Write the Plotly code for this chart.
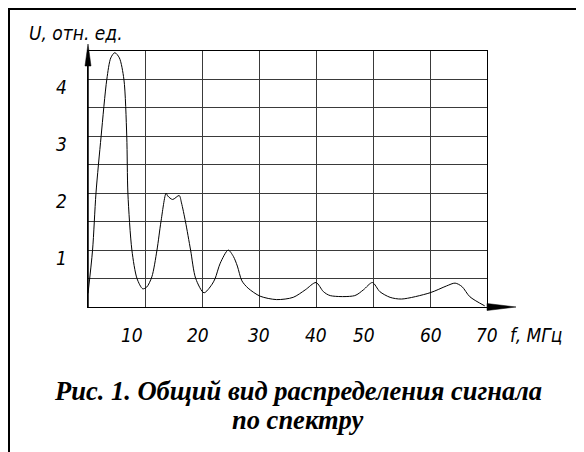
import plotly.graph_objects as go

# ---- data ----
freq_mhz = [0, 0.8, 1.4, 2.3, 3.3, 4.0, 4.7, 5.5, 6.3, 6.8, 7.0, 7.7, 8.6, 9.6,
            10.3, 11.2, 12.1, 12.8, 13.7, 14.0, 14.85, 16.0, 16.4, 17.1, 18.0, 18.9, 20.35,
            21.7, 22.3, 23.2, 24.6, 25.5, 26.2, 27.0, 28.1, 30.2, 33.1, 36.0,
            38.1, 40.0, 41.3, 42.5, 46.8, 48.3, 49.9, 51.2, 53.0, 55.0, 60.0,
            62.9, 64.4, 65.6, 67.0, 69.6]
u_rel = [0.24, 1.0, 2.0, 3.0, 4.0, 4.38, 4.47, 4.38, 4.0, 3.0, 2.0, 1.0, 0.5, 0.32,
         0.35, 0.53, 1.0, 1.5, 2.0, 1.95, 1.89, 1.96, 1.83, 1.5, 1.0, 0.5, 0.25,
         0.39, 0.5, 0.77, 1.0, 0.89, 0.72, 0.46, 0.33, 0.19, 0.13, 0.17,
         0.30, 0.43, 0.27, 0.2, 0.2, 0.30, 0.43, 0.27, 0.17, 0.14, 0.25,
         0.37, 0.42, 0.36, 0.18, 0.02]

x_ticks = [10, 20, 30, 40, 50, 60, 70]
x_tick_labels = ["10", "20", "30", "40", "50", "60", "70"]
y_ticks = [1, 2, 3, 4]
y_tick_labels = ["1", "2", "3", "4"]

y_title = "U, отн. ед."
x_title = "f, МГц"
caption_1 = "Рис. 1. Общий вид распределения сигнала"
caption_2 = "по спектру"

# ---- layout geometry (screen pixels; page body adds an 8 px offset) ----
OFF = 8
W, H = 584, 452
L, T = 88 - OFF, 51 - OFF
PW, PH = 399, 256
R, B = W - L - PW, H - T - PH


def px(xs):
    return (xs - OFF - L) / PW


def py(ys):
    return (T + PH - (ys - OFF)) / PH


gost = "Liberation Sans Narrow, DejaVu Sans Condensed, Arial Narrow, sans-serif"
serif = "Liberation Serif, Times New Roman, serif"
gfont = dict(family=gost, size=19, color="black", style="italic")
cfont = dict(family=serif, size=26.5, color="black", style="italic", weight="bold")

fig = go.Figure()
fig.add_trace(go.Scatter(
    x=freq_mhz, y=u_rel, mode="lines",
    line=dict(color="black", width=1, shape="spline", smoothing=0.8),
    hoverinfo="skip", showlegend=False,
))

axis_common = dict(showticklabels=False, ticks="", zeroline=False,
                   showgrid=True, gridcolor="#3a3a3a", gridwidth=1,
                   showline=True, linecolor="black", linewidth=1, mirror=True)
fig.update_xaxes(range=[0, 70], dtick=10, tick0=0, **axis_common)
fig.update_yaxes(range=[0, 4.5], dtick=0.5, tick0=0, **axis_common)

ann = []
x_shift = [-13, -4, 0, 0, -9, 1, 0]
for v, t, s in zip(x_ticks, x_tick_labels, x_shift):
    ann.append(dict(x=v, y=py(335), xref="x", yref="paper", text=t, showarrow=False,
                    xanchor="center", yanchor="middle", xshift=s, font=gfont))
for v, t in zip(y_ticks, y_tick_labels):
    ann.append(dict(x=px(61), y=v, xref="paper", yref="y", text=t, showarrow=False,
                    xanchor="center", yanchor="middle", yshift=-8, font=gfont))
ann.append(dict(x=px(27), y=py(33), xref="paper", yref="paper", text=y_title,
                showarrow=False, xanchor="left", yanchor="middle", font=gfont))
ann.append(dict(x=px(508), y=py(335), xref="paper", yref="paper", text=x_title,
                showarrow=False, xanchor="left", yanchor="middle", font=gfont))
ann.append(dict(x=px(298), y=py(391), xref="paper", yref="paper", text=caption_1,
                showarrow=False, xanchor="center", yanchor="middle", font=cfont))
ann.append(dict(x=px(297), y=py(420), xref="paper", yref="paper", text=caption_2,
                showarrow=False, xanchor="center", yanchor="middle", font=cfont))

shapes = [
    # outer frame (left and top)
    dict(type="line", xref="paper", yref="paper", x0=px(9), x1=px(9), y0=py(9), y1=py(480),
         line=dict(color="black", width=2)),
    dict(type="line", xref="paper", yref="paper", x0=px(8), x1=px(620), y0=py(9), y1=py(9),
         line=dict(color="black", width=2)),
    # axis extensions
    dict(type="line", xref="paper", yref="paper", x0=px(88), x1=px(88), y0=py(307), y1=py(50),
         line=dict(color="black", width=1.5)),
    dict(type="line", xref="paper", yref="paper", x0=px(487), x1=px(505), y0=py(307), y1=py(307),
         line=dict(color="black", width=1.5)),
    # arrow heads
    dict(type="path", xref="paper", yref="paper",
         path=f"M {px(88)},{py(44)} L {px(85)},{py(66)} L {px(91)},{py(66)} Z",
         fillcolor="black", line=dict(color="black", width=0.5)),
    dict(type="path", xref="paper", yref="paper",
         path=f"M {px(516)},{py(307)} L {px(487)},{py(303.5)} L {px(487)},{py(310.5)} Z",
         fillcolor="black", line=dict(color="black", width=0.5)),
]

fig.update_layout(
    width=W, height=H, autosize=False,
    margin=dict(l=L, r=R, t=T, b=B, pad=0),
    paper_bgcolor="white", plot_bgcolor="white",
    annotations=ann, shapes=shapes, showlegend=False,
)

fig.write_html("out.html")
